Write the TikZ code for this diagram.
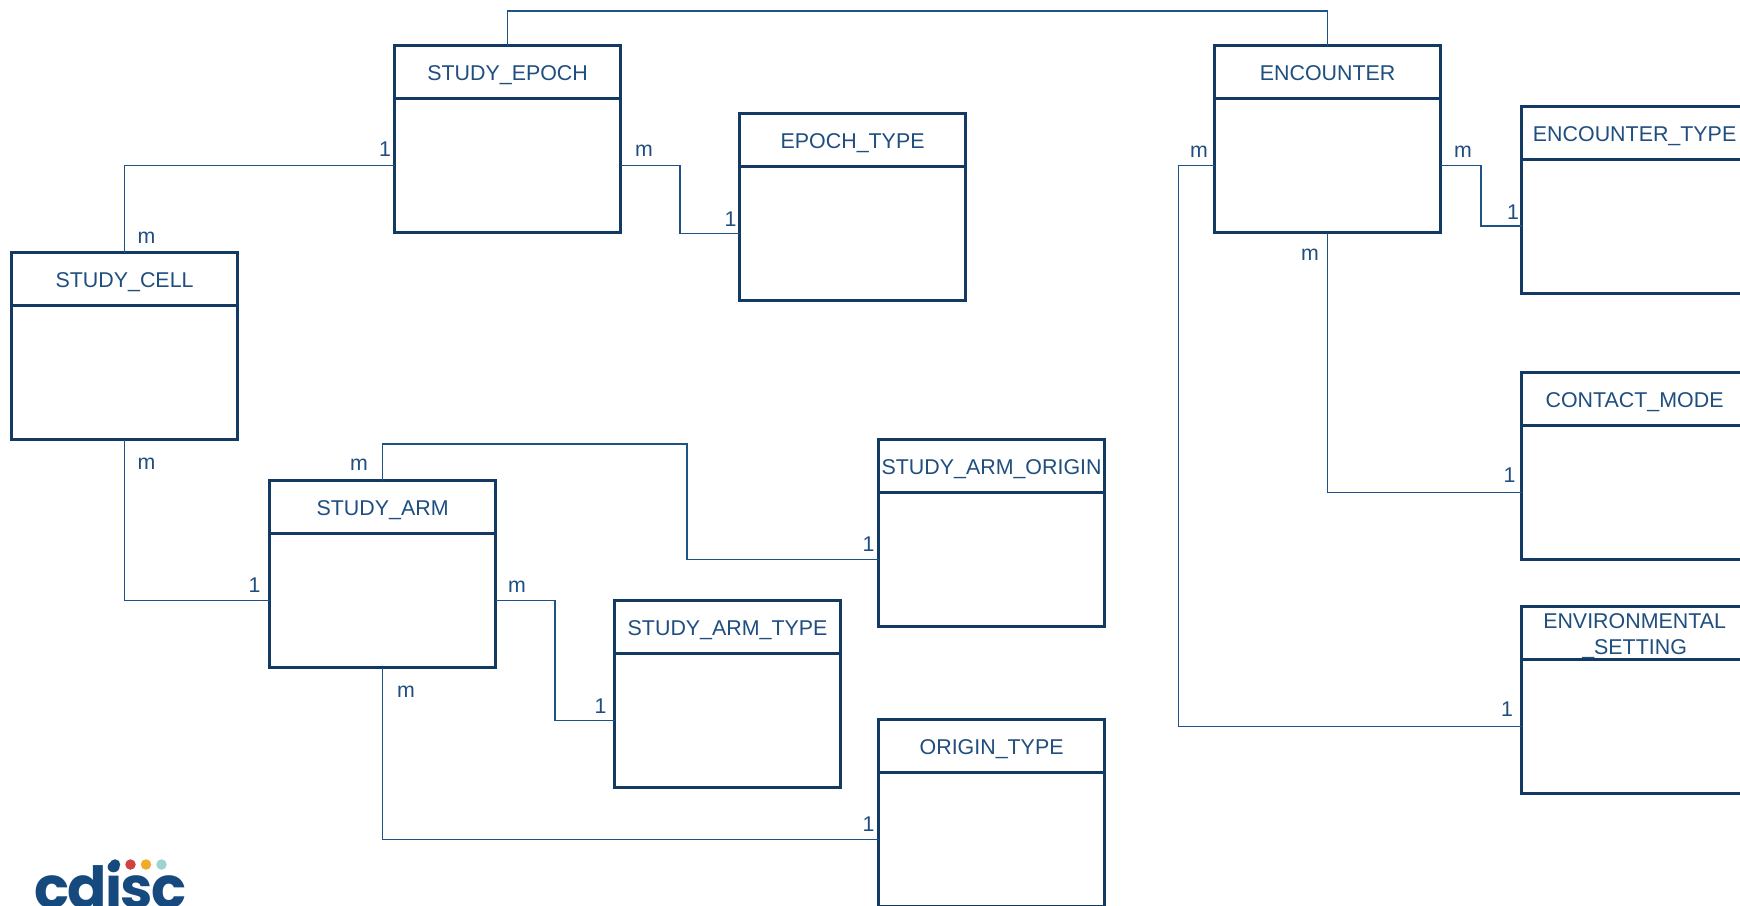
\documentclass[tikz,border=0pt]{standalone}
\usepackage{fontspec}
\setmainfont{Liberation Sans}
\newfontfamily\logofont[LetterSpace=-3]{Poppins}
\definecolor{boxc}{HTML}{123A63}
\definecolor{linec}{HTML}{1F5286}
\definecolor{textc}{HTML}{1F4E7F}
\definecolor{logoc}{HTML}{164A7E}
\definecolor{dotred}{HTML}{D0433F}
\definecolor{dotyellow}{HTML}{F0AC28}
\definecolor{dotteal}{HTML}{9ED3D0}
\tikzset{
  titlebox/.style={draw=boxc,line width=3pt,minimum width=226pt,minimum height=53pt,inner sep=0pt,outer sep=0pt,
    anchor=north,text=textc,font=\fontsize{21.4}{26}\selectfont,align=center,text height=17.5pt,text depth=0pt},
  bodybox/.style={draw=boxc,line width=3pt,minimum width=226pt,minimum height=134pt,inner sep=0pt,outer sep=0pt,anchor=north},
  conn/.style={draw=linec,line width=1.1pt},
  card/.style={text=textc,font=\fontsize{21.3}{26}\selectfont,inner sep=0pt,text height=15.3pt,text depth=0pt},
  dot/.style={circle,inner sep=0pt,minimum size=10.5pt},
}
% #2 name, #3 centre x, #4 top y, #5 title
\newcommand{\entity}[5][]{%
  \node[bodybox] (#2-body) at (#3+0.6,#4+53.7) {};
  \node[titlebox,#1] (#2-title) at (#3+0.6,#4+0.7) {#5};
}
\begin{document}
\begin{tikzpicture}[x=1pt,y=-1pt]
\useasboundingbox (0,0) rectangle (1740,905);
\clip (0,0) rectangle (1740,905);
\fill[white] (0,0) rectangle (1740,905);

\coordinate (topline) at (0,11);
\coordinate (armtop) at (0,444);
\coordinate (epochmid) at (680,0);
\coordinate (enctypemid) at (1481,0);
\coordinate (encleft) at (1178.5,0);
\coordinate (originmid) at (687,0);
\coordinate (armtypemid) at (555,0);

\entity{epoch}{507}{45}{STUDY\_EPOCH}
\entity{epochtype}{852}{113}{EPOCH\_TYPE}
\entity{encounter}{1327}{45}{ENCOUNTER}
\entity{enctype}{1634}{105.3}{ENCOUNTER\_TYPE}
\entity{contact}{1634}{372}{CONTACT\_MODE}
\entity[text height=42pt]{env}{1634}{606}{ENVIRONMENTAL\\\_SETTING}
\entity{cell}{124}{252}{STUDY\_CELL}
\entity{arm}{382}{480}{STUDY\_ARM}
\entity{armorigin}{991}{439}{STUDY\_ARM\_ORIGIN}
\entity{armtype}{727}{600}{STUDY\_ARM\_TYPE}
\entity{origintype}{991}{719}{ORIGIN\_TYPE}

\draw[conn] (epoch-title.north) -- (epoch-title.north |- topline) -| (encounter-title.north);
\draw[conn] (epoch-body.west) -| (cell-title.north);
\draw[conn] (epoch-body.east) -| (epochmid |- epochtype-body.west) -- (epochtype-body.west);
\draw[conn] (encounter-body.west) -| (encleft |- env-body.west) -- (env-body.west);
\draw[conn] (encounter-body.east) -| (enctypemid |- enctype-body.west) -- (enctype-body.west);
\draw[conn] (encounter-body.south) |- (contact-body.west);
\draw[conn] (cell-body.south) |- (arm-body.west);
\draw[conn] (arm-title.north) -- (arm-title.north |- armtop) -| (originmid |- armorigin-body.west) -- (armorigin-body.west);
\draw[conn] (arm-body.east) -| (armtypemid |- armtype-body.west) -- (armtype-body.west);
\draw[conn] (arm-body.south) |- (origintype-body.west);

\node[card] (c1) at (385,149) {1};
\node[card] (c2) at (644,149) {m};
\node[card] (c3) at (730.5,219) {1};
\node[card] (c4) at (146.5,236) {m};
\node[card] (c5) at (146.5,462) {m};
\node[card] (c6) at (254.5,585) {1};
\node[card] (c7) at (359,463) {m};
\node[card] (c8) at (868.5,544) {1};
\node[card] (c9) at (517,585) {m};
\node[card] (c10) at (600.5,706) {1};
\node[card] (c11) at (406,689.5) {m};
\node[card] (c12) at (868.5,824) {1};
\node[card] (c13) at (1199,150) {m};
\node[card] (c14) at (1463,150) {m};
\node[card] (c15) at (1513,212) {1};
\node[card] (c16) at (1310,253) {m};
\node[card] (c17) at (1509.5,475) {1};
\node[card] (c18) at (1507,709) {1};

\node[anchor=base west,inner sep=0pt,text=logoc,font=\logofont\bfseries\fontsize{58}{58}\selectfont] (logo) at (34,908) {cdisc};
\node[dot,fill=logoc] (d0) at (115,864.5) {};
\node[dot,fill=dotred] (d1) at (130.5,864.5) {};
\node[dot,fill=dotyellow] (d2) at (146,864.5) {};
\node[dot,fill=dotteal] (d3) at (161.5,864.5) {};
\end{tikzpicture}
\end{document}
